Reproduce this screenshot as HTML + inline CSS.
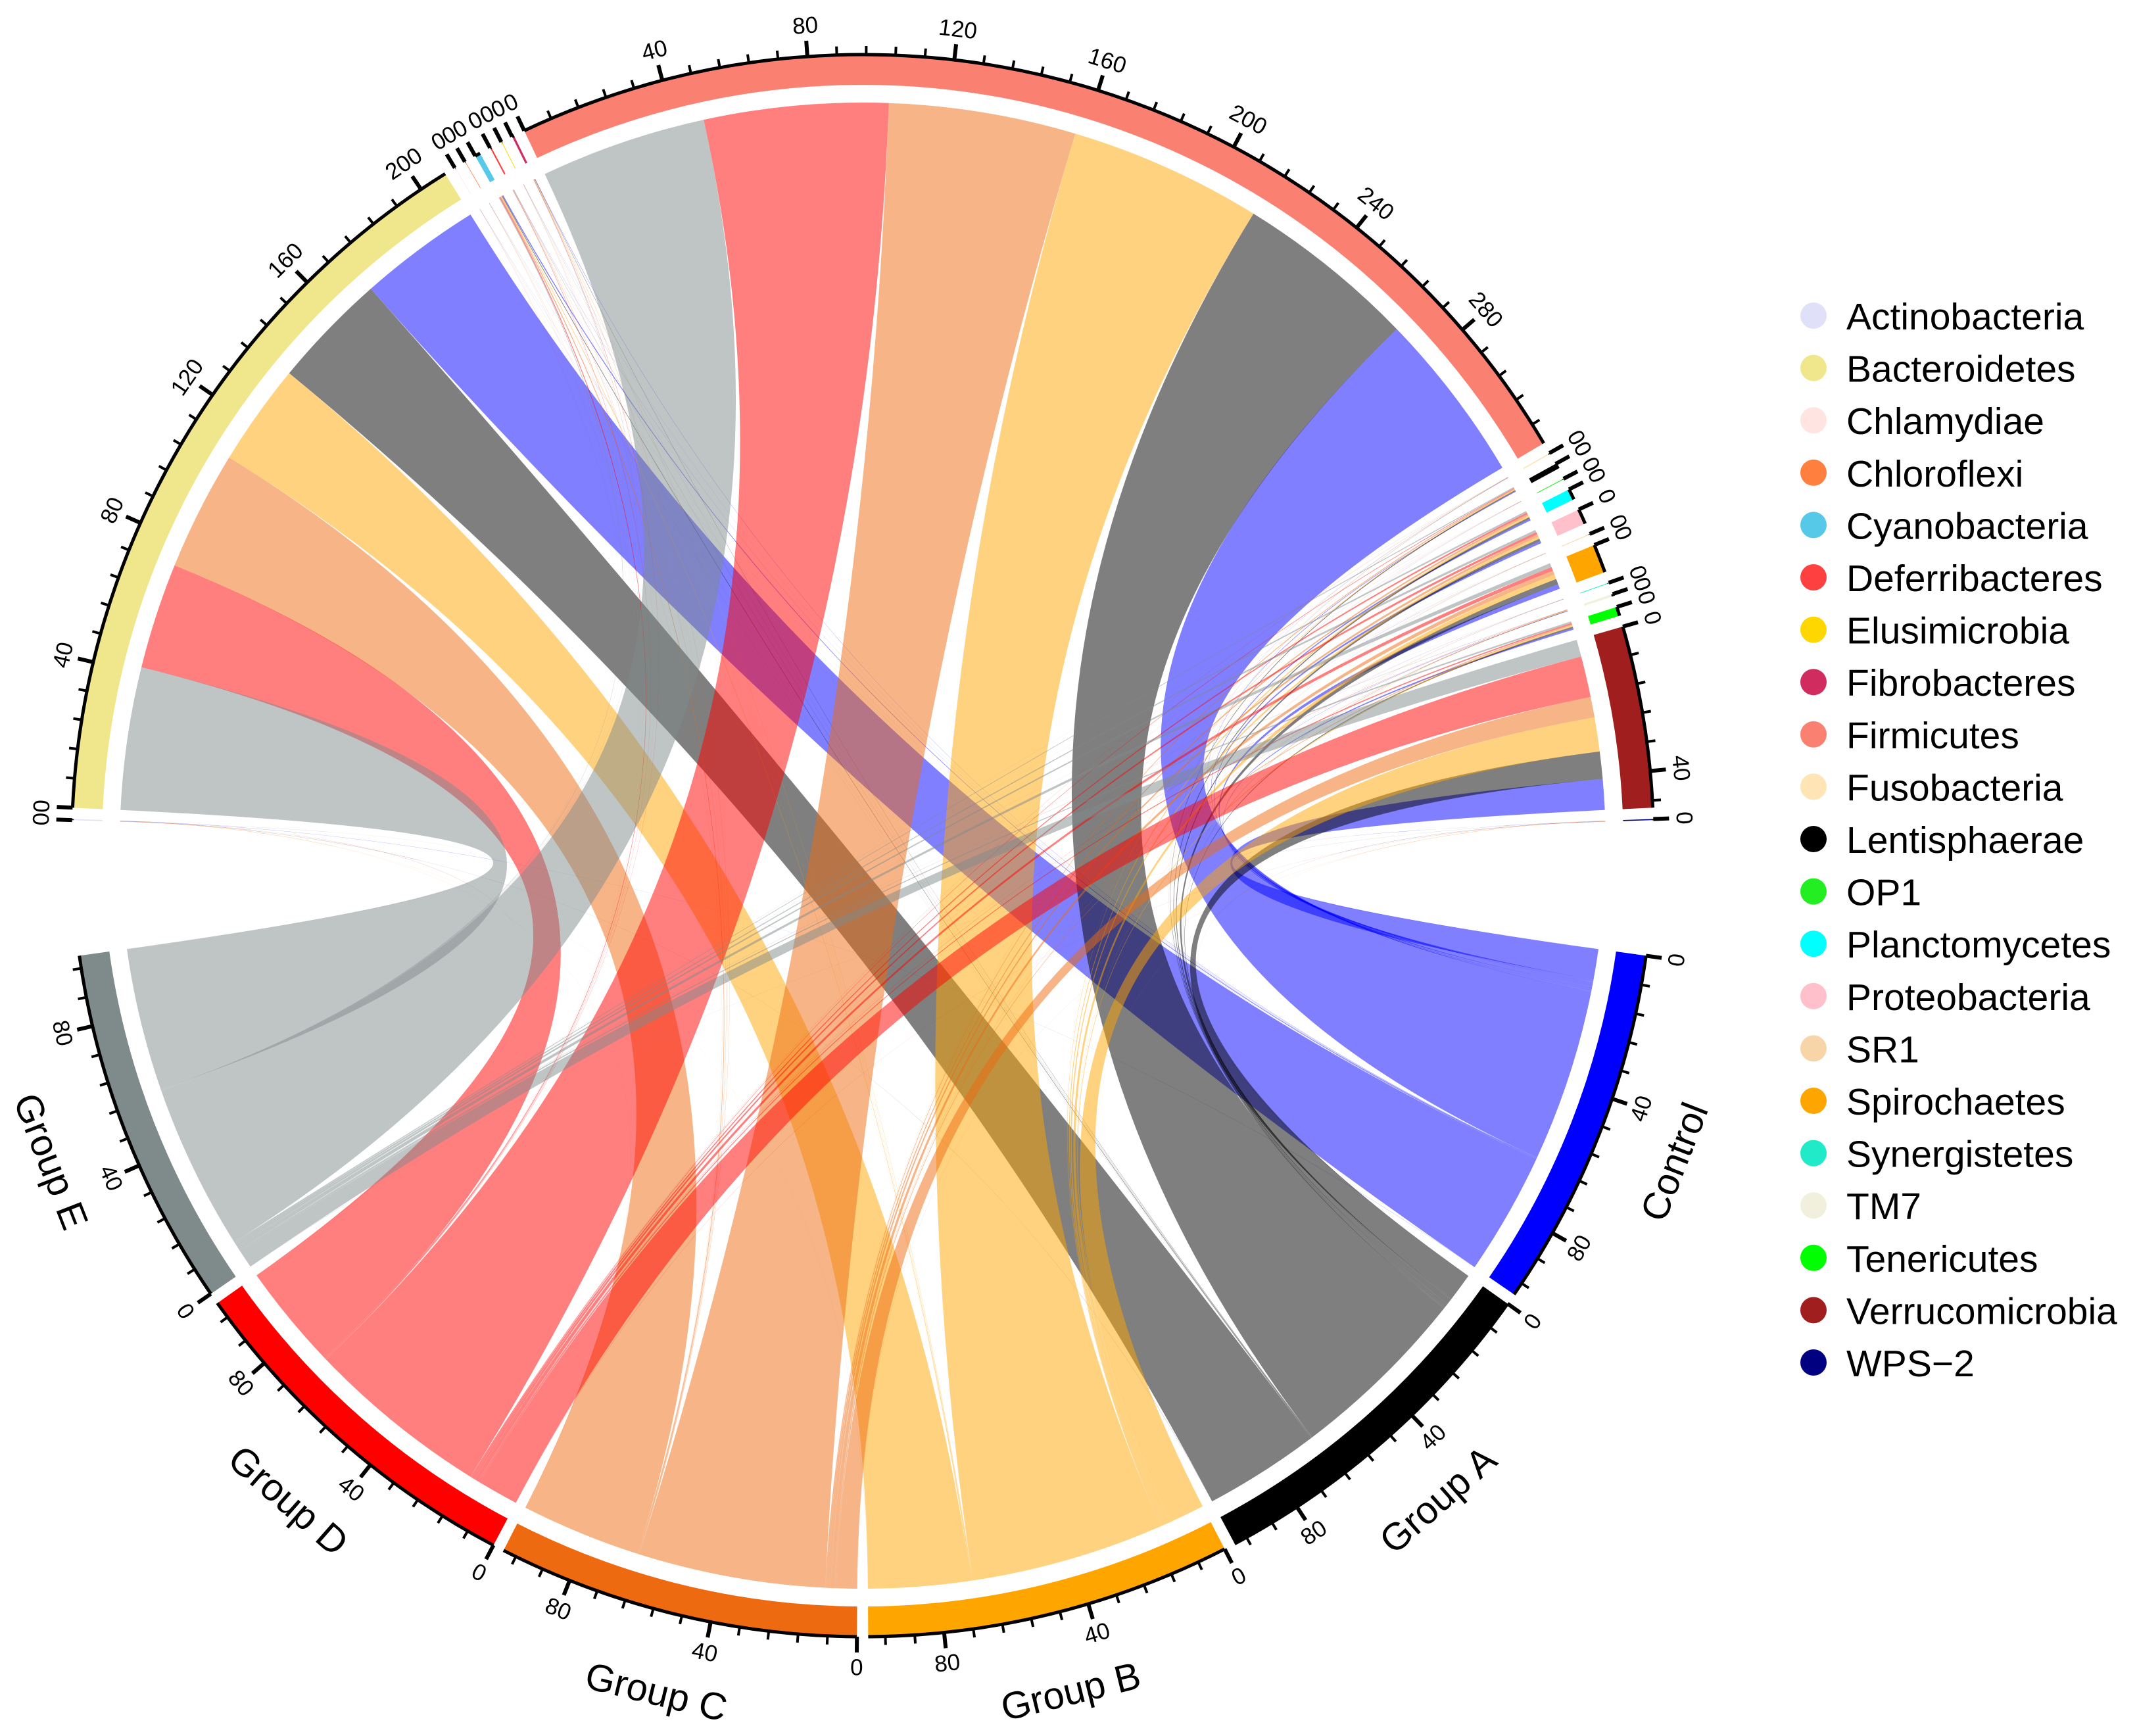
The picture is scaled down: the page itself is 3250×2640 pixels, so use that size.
<!DOCTYPE html>
<html><head><meta charset="utf-8">
<style>
html,body{margin:0;padding:0;background:#fff;}
svg{display:block;font-family:"Liberation Sans",sans-serif;}
</style></head>
<body>
<svg id="chart" xmlns="http://www.w3.org/2000/svg" width="3250" height="2640" viewBox="0 0 3250 2640">
<g id="links"></g>
<g id="sectors"></g>
<g id="legend"></g>
</svg>
<script>
const groups = ["Control","Group A","Group B","Group C","Group D","Group E"];
const groupColors = ["#0000FF","#000000","#FFA500","#EE6A10","#FF0000","#7F8A8B"];
const phyla = ["Actinobacteria","Bacteroidetes","Chlamydiae","Chloroflexi","Cyanobacteria","Deferribacteres","Elusimicrobia","Fibrobacteres","Firmicutes","Fusobacteria","Lentisphaerae","OP1","Planctomycetes","Proteobacteria","SR1","Spirochaetes","Synergistetes","TM7","Tenericutes","Verrucomicrobia","WPS\u22122"];
const phylaColors = ["#E0E0F8","#F0E68C","#FFE4E1","#FF7F3F","#56C8E8","#FF4040","#FFD700","#D02C60","#FA8072","#FFE4B5","#000000","#22EE22","#00FFFF","#FFC0CB","#F8D5A8","#FFA500","#20EAC8","#F0F0DC","#00FF00","#A01E1E","#000080"];
// relative abundance (%) per group (rows) per phylum (columns)
const rowControl = [0.05,36,0.02,0.02,0.3,0.05,0.03,0.1,50.5,0.05,0.2,0.03,0.5,0.7,0.03,1.4,0.03,0.1,0.5,9,0.05];
const rowGroupA  = [0.05,34,0.02,0.02,0.2,0.05,0.03,0.1,53.4,0.05,0.3,0.03,0.5,0.7,0.03,1.6,0.03,0.1,0.4,8,0.05];
const rowGroupB  = [0.05,30,0.02,0.02,0.2,0.05,0.03,0.1,56.7,0.05,0.2,0.03,0.5,0.7,0.03,1.4,0.03,0.1,0.4,10,0.05];
const rowGroupC  = [0.05,35,0.02,0.05,0.3,0.1,0.03,0.1,54.8,0.05,0.3,0.03,0.5,0.7,0.03,1.2,0.03,0.1,0.3,6,0.05];
const rowGroupD  = [0.05,31,0.02,0.02,0.3,0.1,0.03,0.1,53.9,0.05,0.2,0.03,0.5,0.7,0.03,1.1,0.03,0.1,0.4,12,0.05];
const rowGroupE  = [0.05,41.8,0.02,0.02,0.2,0.05,0.03,0.1,48.7,0.05,0.3,0.03,0.5,0.7,0.03,1.2,0.03,0.1,0.5,5,0.05];
const matrix = [rowControl,rowGroupA,rowGroupB,rowGroupC,rowGroupD,rowGroupE];

const NS="http://www.w3.org/2000/svg";
const cx=1312, cy=1286, R_OUT=1203, R_IN=1157, R_LINK=1130;
const GAP=0.82;
function P(r,d){const a=d*Math.PI/180;return [cx+r*Math.cos(a),cy+r*Math.sin(a)];}
function pt(p){return p[0].toFixed(2)+" "+p[1].toFixed(2);}
function mk(tag,attrs,parent){const e=document.createElementNS(NS,tag);for(const k in attrs)e.setAttribute(k,attrs[k]);parent.appendChild(e);return e;}

const groupTotals = matrix.map(r=>r.reduce((a,b)=>a+b,0));
const phylaTotals = phyla.map((_,j)=>matrix.reduce((a,r)=>a+r[j],0));
const total = groupTotals.reduce((a,b)=>a+b,0);
const scale = (164 - 5*GAP)/total; // degrees per unit
const pGap = (176.3 - total*scale)/20;

const pStart=[]; let a=-178.15;
phyla.forEach((_,j)=>{pStart.push(a); a+=phylaTotals[j]*scale+pGap;});
const gStart=[]; a=8;
groups.forEach((_,i)=>{gStart.push(a); a+=groupTotals[i]*scale+GAP;});

const pPos={}, gPos={};
phyla.forEach((_,j)=>{let s=pStart[j];for(let i=groups.length-1;i>=0;i--){pPos[i+"_"+j]=[s,s+matrix[i][j]*scale];s+=matrix[i][j]*scale;}});
groups.forEach((_,i)=>{let s=gStart[i];for(let j=phyla.length-1;j>=0;j--){gPos[i+"_"+j]=[s,s+matrix[i][j]*scale];s+=matrix[i][j]*scale;}});

const linksG=document.getElementById("links");
for(let j=0;j<phyla.length;j++){
  for(let i=0;i<groups.length;i++){
    const v=matrix[i][j]; if(v<=0) continue;
    const [p0,p1]=pPos[i+"_"+j], [g0,g1]=gPos[i+"_"+j];
    const d="M"+pt(P(R_LINK,p0))+" A"+R_LINK+" "+R_LINK+" 0 0 1 "+pt(P(R_LINK,p1))+
      " Q"+cx+" "+cy+" "+pt(P(R_LINK,g0))+" A"+R_LINK+" "+R_LINK+" 0 0 1 "+pt(P(R_LINK,g1))+
      " Q"+cx+" "+cy+" "+pt(P(R_LINK,p0))+"Z";
    const el=mk("path",{d:d,fill:groupColors[i],"fill-opacity":0.5},linksG);
    
    
  }
}

function rotFor(th){let r=th+90;while(r>180)r-=360;while(r<=-180)r+=360;if(r>90)r-=180;else if(r<-90)r+=180;return r;}

const secG=document.getElementById("sectors");
function drawSector(name,color,start,value,label){
  const a0=start,a1=start+Math.max(value*scale,0.02);
  const lg=(a1-a0)>180?1:0;
  const d="M"+pt(P(R_OUT,a0))+" A"+R_OUT+" "+R_OUT+" 0 "+lg+" 1 "+pt(P(R_OUT,a1))+" L"+pt(P(R_IN,a1))+
    " A"+R_IN+" "+R_IN+" 0 "+lg+" 0 "+pt(P(R_IN,a0))+"Z";
  const band=mk("path",{d:d,fill:color},secG);
  
  
  const axis=mk("path",{d:"M"+pt(P(R_OUT,a0))+" A"+R_OUT+" "+R_OUT+" 0 "+lg+" 1 "+pt(P(R_OUT,a1)),fill:"none",stroke:"#000","stroke-width":5},secG);
  
  
  for(let v=0;v<=value+1e-9;v+=8){
    const th=a0+v*scale, major=(v%40===0);
    const t=mk("line",{x1:P(R_OUT,th)[0],y1:P(R_OUT,th)[1],x2:P(R_OUT+(major?24:13),th)[0],y2:P(R_OUT+(major?24:13),th)[1],stroke:"#000","stroke-width":major?6:4},secG);
    
    
    if(major){
      const p=P(1250,th);
      const tx=mk("text",{x:p[0],y:p[1],"font-size":35,"text-anchor":"middle","dominant-baseline":"central",transform:"rotate("+rotFor(th).toFixed(2)+" "+p[0].toFixed(2)+" "+p[1].toFixed(2)+")"},secG);
      tx.textContent=String(v);
      
      
    }
  }
  if(label){
    const th=(a0+a1)/2, p=P(1325,th);
    const tx=mk("text",{x:p[0],y:p[1],"font-size":58,"text-anchor":"middle","dominant-baseline":"central",transform:"rotate("+rotFor(th).toFixed(2)+" "+p[0].toFixed(2)+" "+p[1].toFixed(2)+")"},secG);
    tx.textContent=name;
    
    
  }
}
phyla.forEach((n,j)=>drawSector(n,phylaColors[j],pStart[j],phylaTotals[j],false));
groups.forEach((n,i)=>drawSector(n,groupColors[i],gStart[i],groupTotals[i],true));

const legG=document.getElementById("legend");
phyla.forEach((n,j)=>{
  const y=480+j*79.6;
  const c=mk("circle",{cx:2758,cy:y,r:20,fill:phylaColors[j]},legG);
  
  
  const t=mk("text",{x:2808,y:y+21,"font-size":57,fill:"#000"},legG);
  t.textContent=n;
  
  
});
</script>
</body></html>
